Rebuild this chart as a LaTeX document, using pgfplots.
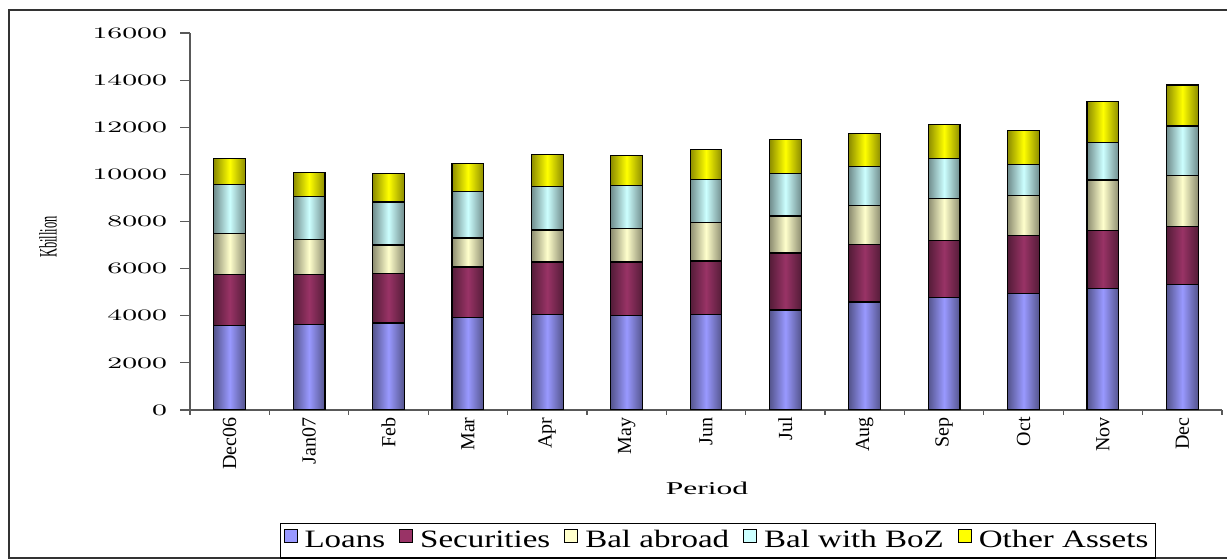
\documentclass[border=0pt]{standalone}
\usepackage{pgfplots}
\usepackage{pgfplotstable}
\pgfplotsset{compat=1.18}
\usepackage{fontspec}
\setmainfont{Liberation Serif}
\usepackage{graphicx}

\definecolor{loans}{HTML}{9999FF}
\definecolor{secur}{HTML}{993366}
\definecolor{abroad}{HTML}{FFFFCC}
\definecolor{boz}{HTML}{CCFFFF}
\definecolor{other}{HTML}{FFFF00}

% horizontally stretched text, as in the axis captions
\newcommand{\wideT}[1]{\scalebox{1.75}[1]{#1}}

% assets of the banking sector, K billion
\pgfplotstableread{
x  L    S    BA   BZ   O
0  3600 2150 1730 2090 1120
1  3620 2140 1470 1840 1000
2  3690 2110 1200 1830 1190
3  3930 2140 1230 1980 1170
4  4050 2230 1360 1850 1340
5  4020 2260 1430 1830 1250
6  4060 2260 1630 1840 1270
7  4240 2420 1570 1810 1430
8  4580 2430 1680 1640 1390
9  4780 2410 1800 1700 1440
10 4940 2460 1710 1320 1430
11 5160 2460 2140 1600 1740
12 5330 2450 2180 2090 1740
}\assets

\pgfplotsset{
  barshade/.style={ybar, bar shift=0pt, fill=#1,
    left color=#1!55!black, right color=#1!55!black, middle color=#1,
    draw=black, line width=0.6pt},
  legsq/.style={fill=#1, draw=black, line width=0.5pt},
}

\begin{document}
\begin{tikzpicture}
\begin{scope}[x=0.5pt,y=0.5pt]
\useasboundingbox (0,0) rectangle (1227,548);
\draw[black!80, line width=0.75pt] (9,538) rectangle (1240,-10);
\node at (707,60) {\fontsize{9}{9}\selectfont\wideT{Period}};
\node[rotate=90] at (48,311) {\fontsize{12.5}{12}\selectfont\scalebox{0.5}[1]{Kbillion}};
\end{scope}

\begin{axis}[
  at={(95pt,69pt)}, anchor=south west,
  scale only axis, width=516pt, height=188.5pt,
  bar width=0.4,
  xmin=-0.5, xmax=12.5, ymin=0, ymax=16000,
  axis x line*=bottom, axis y line*=left,
  axis line style={black!65, line width=0.7pt},
  tick style={black!65, line width=0.6pt},
  tick align=outside, major tick length=5pt, minor tick length=2.5pt,
  ytick={0,2000,...,16000}, scaled y ticks=false,
  yticklabel={\wideT{\pgfmathprintnumber[fixed,1000 sep={}]{\tick}}},
  y tick label style={font=\fontsize{8.5}{9}\selectfont, xshift=-3pt},
  xtick={0,...,12},
  xticklabels={Dec06,Jan07,Feb,Mar,Apr,May,Jun,Jul,Aug,Sep,Oct,Nov,Dec},
  minor xtick={-0.5,0.5,...,12.5},
  major x tick style={draw=none},
  x tick label style={rotate=90, anchor=east, inner sep=0pt,
    font=\fontsize{10}{10}\selectfont},
  xticklabel shift=-1.5pt,
  legend columns=-1,
  legend image code/.code={\draw[#1] (0pt,-1pt) rectangle (6.5pt,5.5pt);},
  legend style={at={(rel axis cs:0.5116,-0.2997)}, anchor=north,
    draw=black, line width=0.6pt, inner sep=1.5pt,
    font=\fontsize{12.5}{13}\selectfont,
    /tikz/every odd column/.append style={column sep=1.5pt},
    /tikz/every even column/.append style={column sep=5pt}},
]
% one bar per month and segment, so that each bar gets its own shading;
% segments are drawn from the stack top downwards
\pgfplotsinvokeforeach{0,...,12}{
  \addplot[barshade=other, forget plot, restrict x to domain=#1:#1]
    table[x=x, y expr=\thisrow{L}+\thisrow{S}+\thisrow{BA}+\thisrow{BZ}+\thisrow{O}] {\assets};
  \addplot[barshade=boz, forget plot, restrict x to domain=#1:#1]
    table[x=x, y expr=\thisrow{L}+\thisrow{S}+\thisrow{BA}+\thisrow{BZ}] {\assets};
  \addplot[barshade=abroad, forget plot, restrict x to domain=#1:#1]
    table[x=x, y expr=\thisrow{L}+\thisrow{S}+\thisrow{BA}] {\assets};
  \addplot[barshade=secur, forget plot, restrict x to domain=#1:#1]
    table[x=x, y expr=\thisrow{L}+\thisrow{S}] {\assets};
  \addplot[barshade=loans, forget plot, restrict x to domain=#1:#1]
    table[x=x, y=L] {\assets};
}

\addlegendimage{legsq=loans}
\addlegendentry{\scalebox{1.32}[1]{Loans}}
\addlegendimage{legsq=secur}
\addlegendentry{\scalebox{1.32}[1]{Securities}}
\addlegendimage{legsq=abroad}
\addlegendentry{\scalebox{1.32}[1]{Bal abroad}}
\addlegendimage{legsq=boz}
\addlegendentry{\scalebox{1.32}[1]{Bal with BoZ}}
\addlegendimage{legsq=other}
\addlegendentry{\scalebox{1.32}[1]{Other Assets}}
\end{axis}
\end{tikzpicture}
\end{document}
